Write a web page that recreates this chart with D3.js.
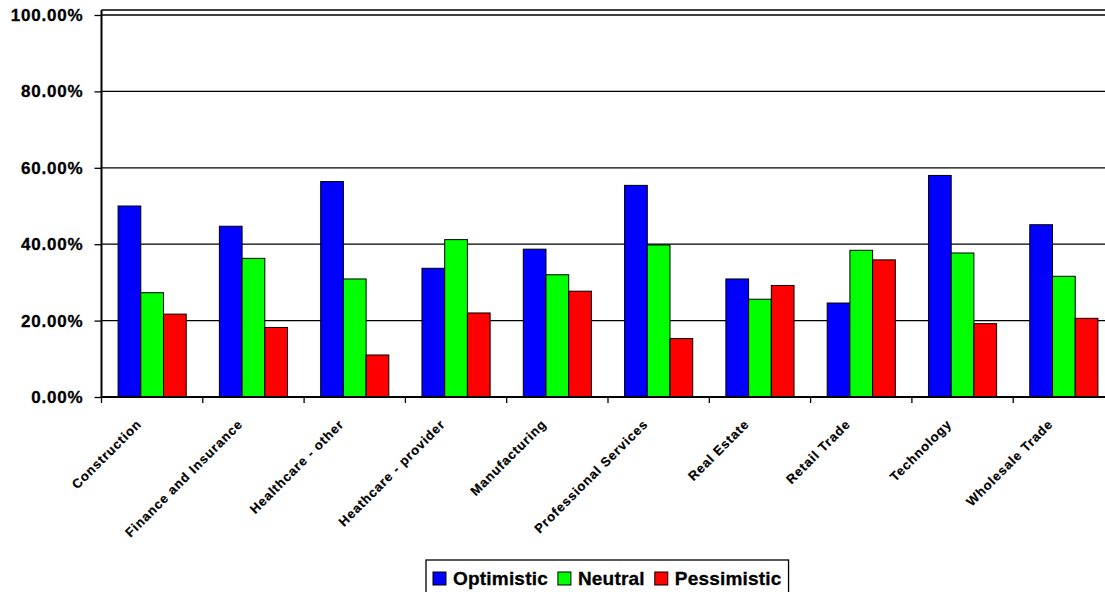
<!DOCTYPE html>
<html>
<head>
<meta charset="utf-8">
<script src="https://cdn.jsdelivr.net/npm/d3@7"></script>
<style>
  body{margin:0;background:#fff;}
  svg{display:block;font-family:"Liberation Sans",Arial,sans-serif;font-weight:bold;}
</style>
</head>
<body>
<svg id="chart" width="1105" height="592"></svg>
<script>
// dados
var categorias = ["Construction","Finance and Insurance","Healthcare - other","Heathcare - provider","Manufacturing","Professional Services","Real Estate","Retail Trade","Technology","Wholesale Trade"];
var series = ["Optimistic","Neutral","Pessimistic"];
var cores = ["#0000ff","#00ff00","#ff0000"];
var otimista  = [0.500,0.447,0.564,0.337,0.387,0.554,0.309,0.246,0.580,0.451];
var neutro    = [0.273,0.363,0.309,0.412,0.320,0.398,0.256,0.384,0.377,0.316];
var pessimista= [0.217,0.182,0.110,0.220,0.277,0.153,0.292,0.359,0.192,0.206];
var yTicks = [0,0.2,0.4,0.6,0.8,1.0];

var valores = [otimista, neutro, pessimista];

var svg = d3.select("#chart");
var margin = {left:101.5, top:10, bottom:397};
var plotRight = 1114.5;

var x = d3.scaleBand().domain(categorias).range([margin.left, plotRight]).paddingInner(0).paddingOuter(0);
var xs = d3.scaleBand().domain(series).range([0, x.bandwidth()]).paddingInner(0).paddingOuter(0.73);
var y = d3.scaleLinear().domain([0,1]).range([397, 15]);

// grade
svg.append("g").selectAll("line").data(yTicks.filter(function(d){return d>0;}))
  .enter().append("line")
  .attr("x1", margin.left).attr("x2", plotRight)
  .attr("y1", function(d){return y(d);}).attr("y2", function(d){return y(d);})
  .attr("stroke","#000").attr("stroke-width",1.3);

// borda superior
svg.append("line").attr("x1",margin.left).attr("x2",plotRight)
  .attr("y1",margin.top).attr("y2",margin.top)
  .attr("stroke","#000").attr("stroke-width",1.3);

// barras
var grupos = svg.append("g").selectAll("g").data(categorias).enter().append("g")
  .attr("transform", function(d){return "translate(" + x(d) + ",0)";});
grupos.selectAll("rect").data(function(d,i){
    return series.map(function(s,j){return {serie:s, v:valores[j][i], cor:cores[j]};});
  }).enter().append("rect")
  .attr("x", function(d){return xs(d.serie);})
  .attr("width", xs.bandwidth())
  .attr("y", function(d){return y(d.v);})
  .attr("height", function(d){return y(0)-y(d.v);})
  .attr("fill", function(d){return d.cor;})
  .attr("stroke","#000").attr("stroke-width",1);

// eixo Y
var eixoY = svg.append("g").attr("transform","translate(" + margin.left + ",0)")
  .call(d3.axisLeft(y).tickValues(yTicks).tickFormat(d3.format(".2%")).tickSize(7).tickPadding(11));
eixoY.select(".domain").remove();
eixoY.selectAll(".tick line").attr("stroke","#000").attr("stroke-width",1.3);
eixoY.selectAll("text").attr("font-size","17px").attr("font-weight","bold")
  .attr("letter-spacing","0.8px").attr("fill","#000").attr("font-family","Liberation Sans, Arial, sans-serif")
  .attr("stroke","#000").attr("stroke-width",0.3);
svg.append("line").attr("x1",margin.left).attr("x2",margin.left).attr("y1",margin.top).attr("y2",397)
  .attr("stroke","#000").attr("stroke-width",2);

// eixo X
svg.append("line").attr("x1",margin.left).attr("x2",plotRight).attr("y1",397).attr("y2",397)
  .attr("stroke","#000").attr("stroke-width",2);
svg.append("g").selectAll("line").data(categorias).enter().append("line")
  .attr("x1", function(d){return x(d);}).attr("x2", function(d){return x(d);})
  .attr("y1",397).attr("y2",403).attr("stroke","#000").attr("stroke-width",1.3);

svg.append("g").selectAll("text").data(categorias).enter().append("text")
  .attr("transform", function(d){return "translate(" + (x(d)+x.bandwidth()/2-10) + ",425) rotate(-45)";})
  .attr("text-anchor","end")
  .attr("font-size","13px")
  .attr("letter-spacing","0.9px")
  .attr("fill","#000")
  .attr("stroke","#000").attr("stroke-width",0.2)
  .text(function(d){return d;});

// legenda
var leg = svg.append("g");
var legX = 426, legY = 560;
var caixa = leg.append("rect").attr("x",legX).attr("y",legY).attr("height",40)
  .attr("fill","#fff").attr("stroke","#000").attr("stroke-width",1.3);
var cx = legX + 7;
series.forEach(function(s,i){
  leg.append("rect").attr("x",cx).attr("y",572).attr("width",13).attr("height",13)
    .attr("fill",cores[i]).attr("stroke","#000").attr("stroke-width",1);
  var t = leg.append("text").attr("x",cx+20).attr("y",585).attr("font-size","19px")
    .attr("letter-spacing","0.2px")
    .attr("fill","#000").attr("stroke","#000").attr("stroke-width",0.3).text(s);
  cx = cx + 20 + t.node().getComputedTextLength() + 10;
});
caixa.attr("width", cx - legX - 3);
</script>
</body>
</html>
